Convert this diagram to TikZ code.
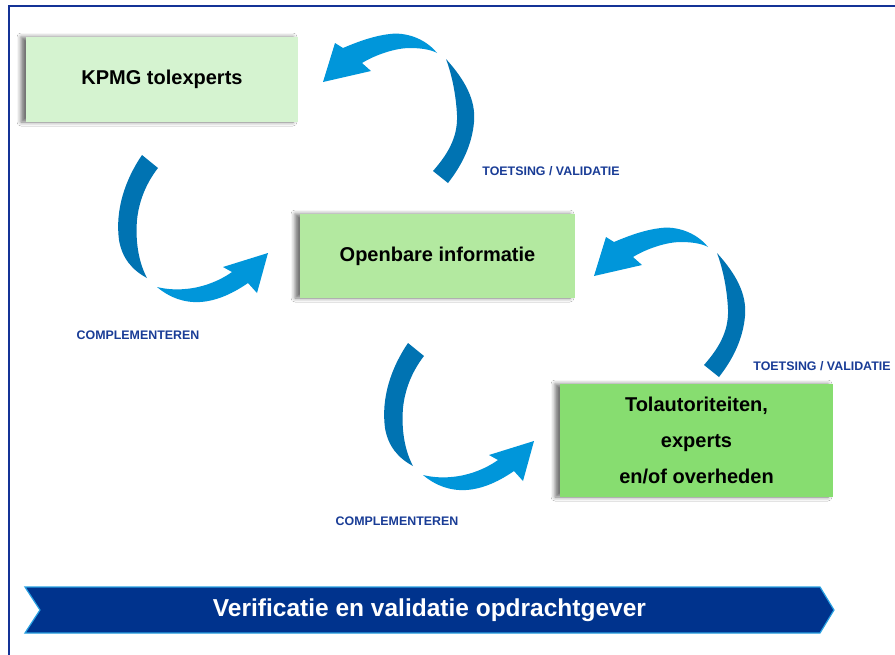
\documentclass[tikz,border=0pt]{standalone}
\usepackage{fontspec}
\setmainfont{Liberation Sans}
\usetikzlibrary{shadows.blur}
\definecolor{frameblue}{RGB}{20,50,150}
\definecolor{labelblue}{RGB}{25,60,150}
\definecolor{arrdark}{RGB}{0,115,178}
\definecolor{arrlight}{RGB}{0,150,218}
\definecolor{bannerblue}{RGB}{0,51,141}
\definecolor{banneredge}{RGB}{40,160,225}
\definecolor{gKPMG}{RGB}{213,243,208}
\definecolor{gOpen}{RGB}{179,233,160}
\definecolor{gTol}{RGB}{135,221,112}
\tikzset{
 box/.style={fill=#1, inner sep=0pt, align=center,
   font=\fontsize{20}{24}\selectfont\bfseries,
   blur shadow={shadow xshift=-5pt, shadow yshift=0pt, shadow blur radius=4pt, shadow opacity=55}},
 lbl/.style={font=\fontsize{12.4}{14}\selectfont\bfseries, text=labelblue, inner sep=0pt},
 darkpart/.style={fill=arrdark},
 lightpart/.style={fill=arrlight},
 bannertext/.style={font=\fontsize{24.5}{28}\selectfont\bfseries, text=white, inner sep=0pt},
}
\newcommand\toetsarrow{%
 \fill[darkpart] (446,59) .. controls (465,80) and (476,100) .. (474,122) .. controls (472,145) and (462,165) .. (448,183) -- (433,171) .. controls (447,155) and (458,138) .. (457,115) .. controls (456,95) and (452,75) .. (446,59) -- cycle;
 \fill[lightpart] (437,53) .. controls (425,38) and (405,32) .. (390,34) .. controls (372,36) and (355,43) .. (343,48) -- (335,43) -- (323,82) -- (371,71) -- (362,63) .. controls (375,55) and (395,48) .. (410,48) .. controls (422,48) and (432,50) .. (437,53) -- cycle;}
\newcommand\complarrow{%
 \fill[darkpart] (142,155) .. controls (125,180) and (115,210) .. (119,240) .. controls (122,258) and (132,270) .. (147,278) .. controls (140,265) and (135,245) .. (137,220) .. controls (139,200) and (147,182) .. (158,168) -- cycle;
 \fill[lightpart] (157,287) .. controls (170,298) and (185,303) .. (200,302) .. controls (218,301) and (235,292) .. (248,283) -- (257,293) -- (268,253) -- (223,267) -- (232,272) .. controls (218,282) and (200,288) .. (185,289) .. controls (175,290) and (165,289) .. (157,287) -- cycle;}
\begin{document}
\begin{tikzpicture}[x=1pt,y=-1pt]
\useasboundingbox (0,0) rectangle (895,654);
\fill[white] (0,0) rectangle (895,654);
\draw[frameblue, line width=2pt] (9,670) -- (9,6) -- (910,6);
% boxes
\node[box=gKPMG, minimum width=272pt, minimum height=85pt] (kpmg) at (162,79.5) {KPMG tolexperts};
\node[box=gOpen, minimum width=275pt, minimum height=84pt] (open) at (437.5,256) {Openbare informatie};
\node[box=gTol, minimum width=273pt, minimum height=113pt, font=\fontsize{20}{36}\selectfont\bfseries] (tol) at (696.5,440.5) {Tolautoriteiten,\\experts\\en/of overheden};
% arrows
\toetsarrow
\begin{scope}[shift={(271,194)}]\toetsarrow\end{scope}
\complarrow
\begin{scope}[shift={(266,188)}]\complarrow\end{scope}
% labels
\node[lbl] (tv1) at (551,171) {TOETSING / VALIDATIE};
\node[lbl] (tv2) at (822,366) {TOETSING / VALIDATIE};
\node[lbl] (c1) at (138,335) {COMPLEMENTEREN};
\node[lbl] (c2) at (397,521) {COMPLEMENTEREN};
% banner
\filldraw[fill=bannerblue, draw=banneredge, line width=1.2pt] (25,587) -- (820,587) -- (834,610) -- (820,633) -- (25,633) -- (40,610) -- cycle;
\node[bannertext] (banner) at (429.5,610) {Verificatie en validatie opdrachtgever};
\end{tikzpicture}
\end{document}
